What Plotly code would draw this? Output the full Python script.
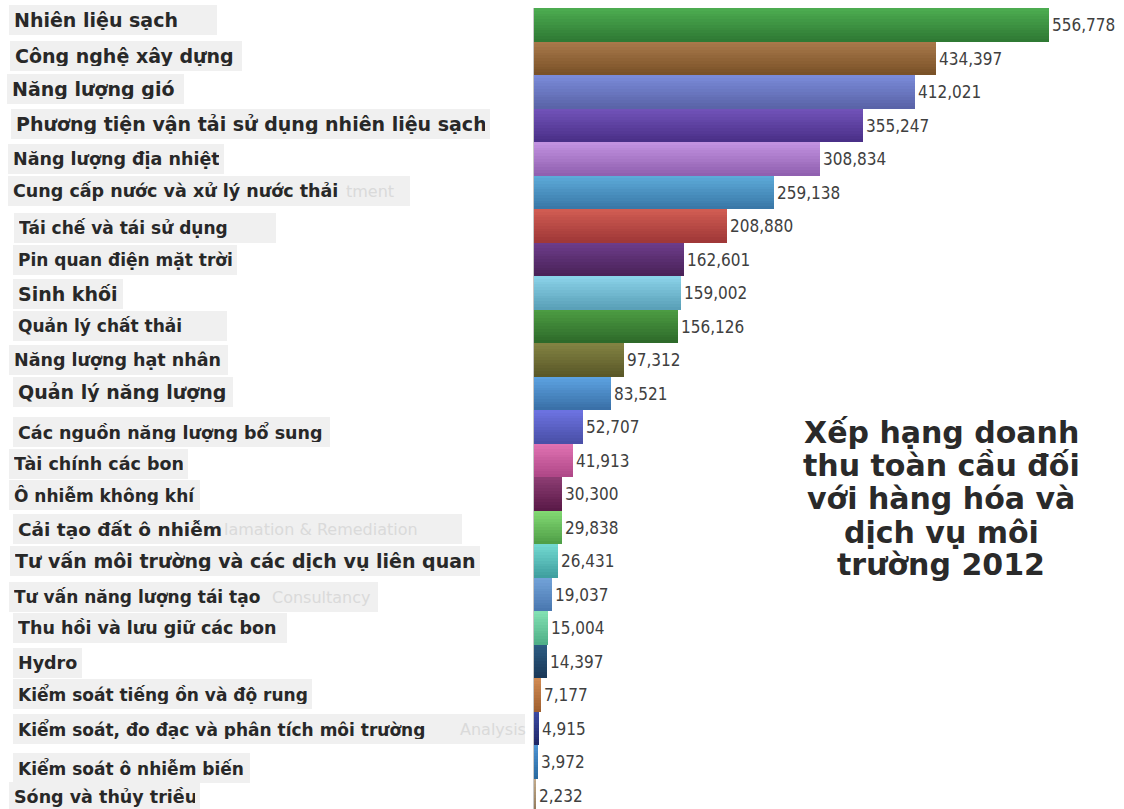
import plotly.graph_objects as go

# Global revenue by environmental goods & services segment, 2012
categories = [
    "Nhiên liệu sạch",
    "Công nghệ xây dựng",
    "Năng lượng gió",
    "Phương tiện vận tải sử dụng nhiên liệu sạch",
    "Năng lượng địa nhiệt",
    "Cung cấp nước và xử lý nước thải",
    "Tái chế và tái sử dụng",
    "Pin quan điện mặt trời",
    "Sinh khối",
    "Quản lý chất thải",
    "Năng lượng hạt nhân",
    "Quản lý năng lượng",
    "Các nguồn năng lượng bổ sung",
    "Tài chính các bon",
    "Ô nhiễm không khí",
    "Cải tạo đất ô nhiễm",
    "Tư vấn môi trường và các dịch vụ liên quan",
    "Tư vấn năng lượng tái tạo",
    "Thu hồi và lưu giữ các bon",
    "Hydro",
    "Kiểm soát tiếng ồn và độ rung",
    "Kiểm soát, đo đạc và phân tích môi trường",
    "Kiểm soát ô nhiễm biến",
    "Sóng và thủy triều",
]
revenue = [
    556778, 434397, 412021, 355247, 308834, 259138, 208880, 162601,
    159002, 156126, 97312, 83521, 52707, 41913, 30300, 29838,
    26431, 19037, 15004, 14397, 7177, 4915, 3972, 2232,
]
title_lines = [
    "Xếp hạng doanh",
    "thu toàn cầu đối",
    "với hàng hóa và",
    "dịch vụ môi",
    "trường 2012",
]

# bar shading: lighter at the top edge, darker at the bottom edge
top_colors = [
    "#4cab50", "#a8784a", "#7a8ad8", "#7152b8", "#c292e0", "#5caad8",
    "#d05c52", "#6c3c8a", "#8ad2e8", "#4c9c42", "#828242", "#5ca2e0",
    "#6c72e0", "#e072b2", "#8c3c72", "#82d872", "#72d8d0", "#72a2d8",
    "#82e0b2", "#2c5c82", "#d08a52", "#3c4aa2", "#4c92d2", "#c2aa8a",
]
bottom_colors = [
    "#2f7a34", "#7a5228", "#5a64a8", "#4a3088", "#9060b0", "#3a78a8",
    "#a03838", "#4a2258", "#5aa0b8", "#2e6a2a", "#5a5828", "#3a70a8",
    "#4a50a8", "#b04888", "#5a1a48", "#50a048", "#40a0a0", "#4a78b0",
    "#50b088", "#1a3858", "#a06030", "#202868", "#2a6aa0", "#907858",
]

# label boxes: text left edge (px), box right edge (px), font size, vertical nudge
label_left = [14, 15, 12, 16, 13, 13, 19, 18, 18, 18, 14, 18,
              18, 14, 14, 18, 15, 14, 18, 18, 18, 18, 18, 14]
box_right = [217, 242, 184, 490, 224, 410, 276, 237, 123, 227, 228, 233,
             330, 188, 200, 462, 480, 378, 287, 82, 312, 525, 250, 200]
label_size = [19, 19, 19, 19, 17.5, 17.5, 17, 17, 19, 17, 17.5, 19,
              17.5, 17.5, 17, 18.5, 19, 17, 17.5, 17.5, 17, 17, 17, 17.5]
label_nudge = [5, 2, 3, 1, 0, 1, -2, -1, -1, 0, 0, 1,
               -5, -4, -1, -2, 0, -3, 0, -2, 1, -1, -6, -2]

# faint leftover text inside some label boxes: (row, x px, text)
ghost_text = [
    (5, 344, "tment"),
    (15, 222, "lamation & Remediation"),
    (17, 270, "Consultancy"),
    (21, 458, "Analysis"),
]

W, H = 1124, 809
PLOT_LEFT = 534
ROW_H = 33.5
TOP_PX = 8
UNITS_PER_PX = 1081


def hex_to_rgb(h):
    h = h.lstrip("#")
    return tuple(int(h[i:i + 2], 16) for i in (0, 2, 4))


def mix(c1, c2, t):
    a, b = hex_to_rgb(c1), hex_to_rgb(c2)
    return "rgb({},{},{})".format(*[round(a[i] + (b[i] - a[i]) * t) for i in range(3)])


fig = go.Figure()

N_BANDS = 12
for k in range(N_BANDS):
    t = k / (N_BANDS - 1)
    fig.add_trace(go.Bar(
        y=categories, x=revenue, orientation="h",
        width=1 / N_BANDS + 0.012, offset=-0.5 + k / N_BANDS,
        marker=dict(color=[mix(a, b, t) for a, b in zip(top_colors, bottom_colors)],
                    line=dict(width=0)),
        hoverinfo="skip", showlegend=False,
    ))

# value labels at the end of each bar
fig.add_trace(go.Bar(
    y=categories, x=revenue, orientation="h", width=1,
    marker=dict(color="rgba(0,0,0,0)", line=dict(width=0)),
    texttemplate="%{x:,}", textposition="outside", constraintext="none",
    cliponaxis=False,
    textfont=dict(family="DejaVu Sans Condensed, Liberation Sans, sans-serif",
                  size=17, color="#404040"),
    showlegend=False,
))

y_bottom = -0.5 + (H - TOP_PX) / ROW_H

fig.update_layout(
    width=W, height=H,
    margin=dict(l=0, r=0, t=0, b=0),
    paper_bgcolor="white", plot_bgcolor="white",
    barmode="overlay", bargap=0,
    xaxis=dict(visible=False, domain=[PLOT_LEFT / W, 1],
               range=[0, (W - PLOT_LEFT) * UNITS_PER_PX], fixedrange=True),
    yaxis=dict(type="category", range=[y_bottom, -0.5],
               domain=[0, 1 - TOP_PX / H],
               showticklabels=False, showgrid=False, zeroline=False, ticks="",
               showline=True, linecolor="#c8c8c8", linewidth=1),
)

annotations = []
for i, name in enumerate(categories):
    x0 = label_left[i] - 5
    annotations.append(dict(
        xref="paper", yref="y", x=x0 / W, y=name,
        xanchor="left", yanchor="middle", yshift=label_nudge[i],
        text=name, showarrow=False, align="left", valign="middle",
        width=box_right[i] - x0 - 10, height=20,
        bgcolor="#f0f0f0", borderpad=5, borderwidth=0,
        font=dict(family="DejaVu Sans", size=label_size[i], color="#282828",
                  weight="bold"),
    ))

for row, px, txt in ghost_text:
    annotations.append(dict(
        xref="paper", yref="y", x=px / W, y=categories[row],
        xanchor="left", yanchor="middle", yshift=label_nudge[row],
        text=txt, showarrow=False,
        font=dict(family="DejaVu Sans", size=16, color="#dadada"),
    ))

title_centres_px = [432, 465, 498, 532, 564]
for line, py in zip(title_lines, title_centres_px):
    annotations.append(dict(
        xref="paper", yref="paper", x=941 / W, y=1 - py / H,
        xanchor="center", yanchor="middle",
        text=line, showarrow=False,
        font=dict(family="DejaVu Sans", size=30, color="#2a2a2a", weight="bold"),
    ))

fig.update_layout(annotations=annotations)

fig.write_html("out.html")
